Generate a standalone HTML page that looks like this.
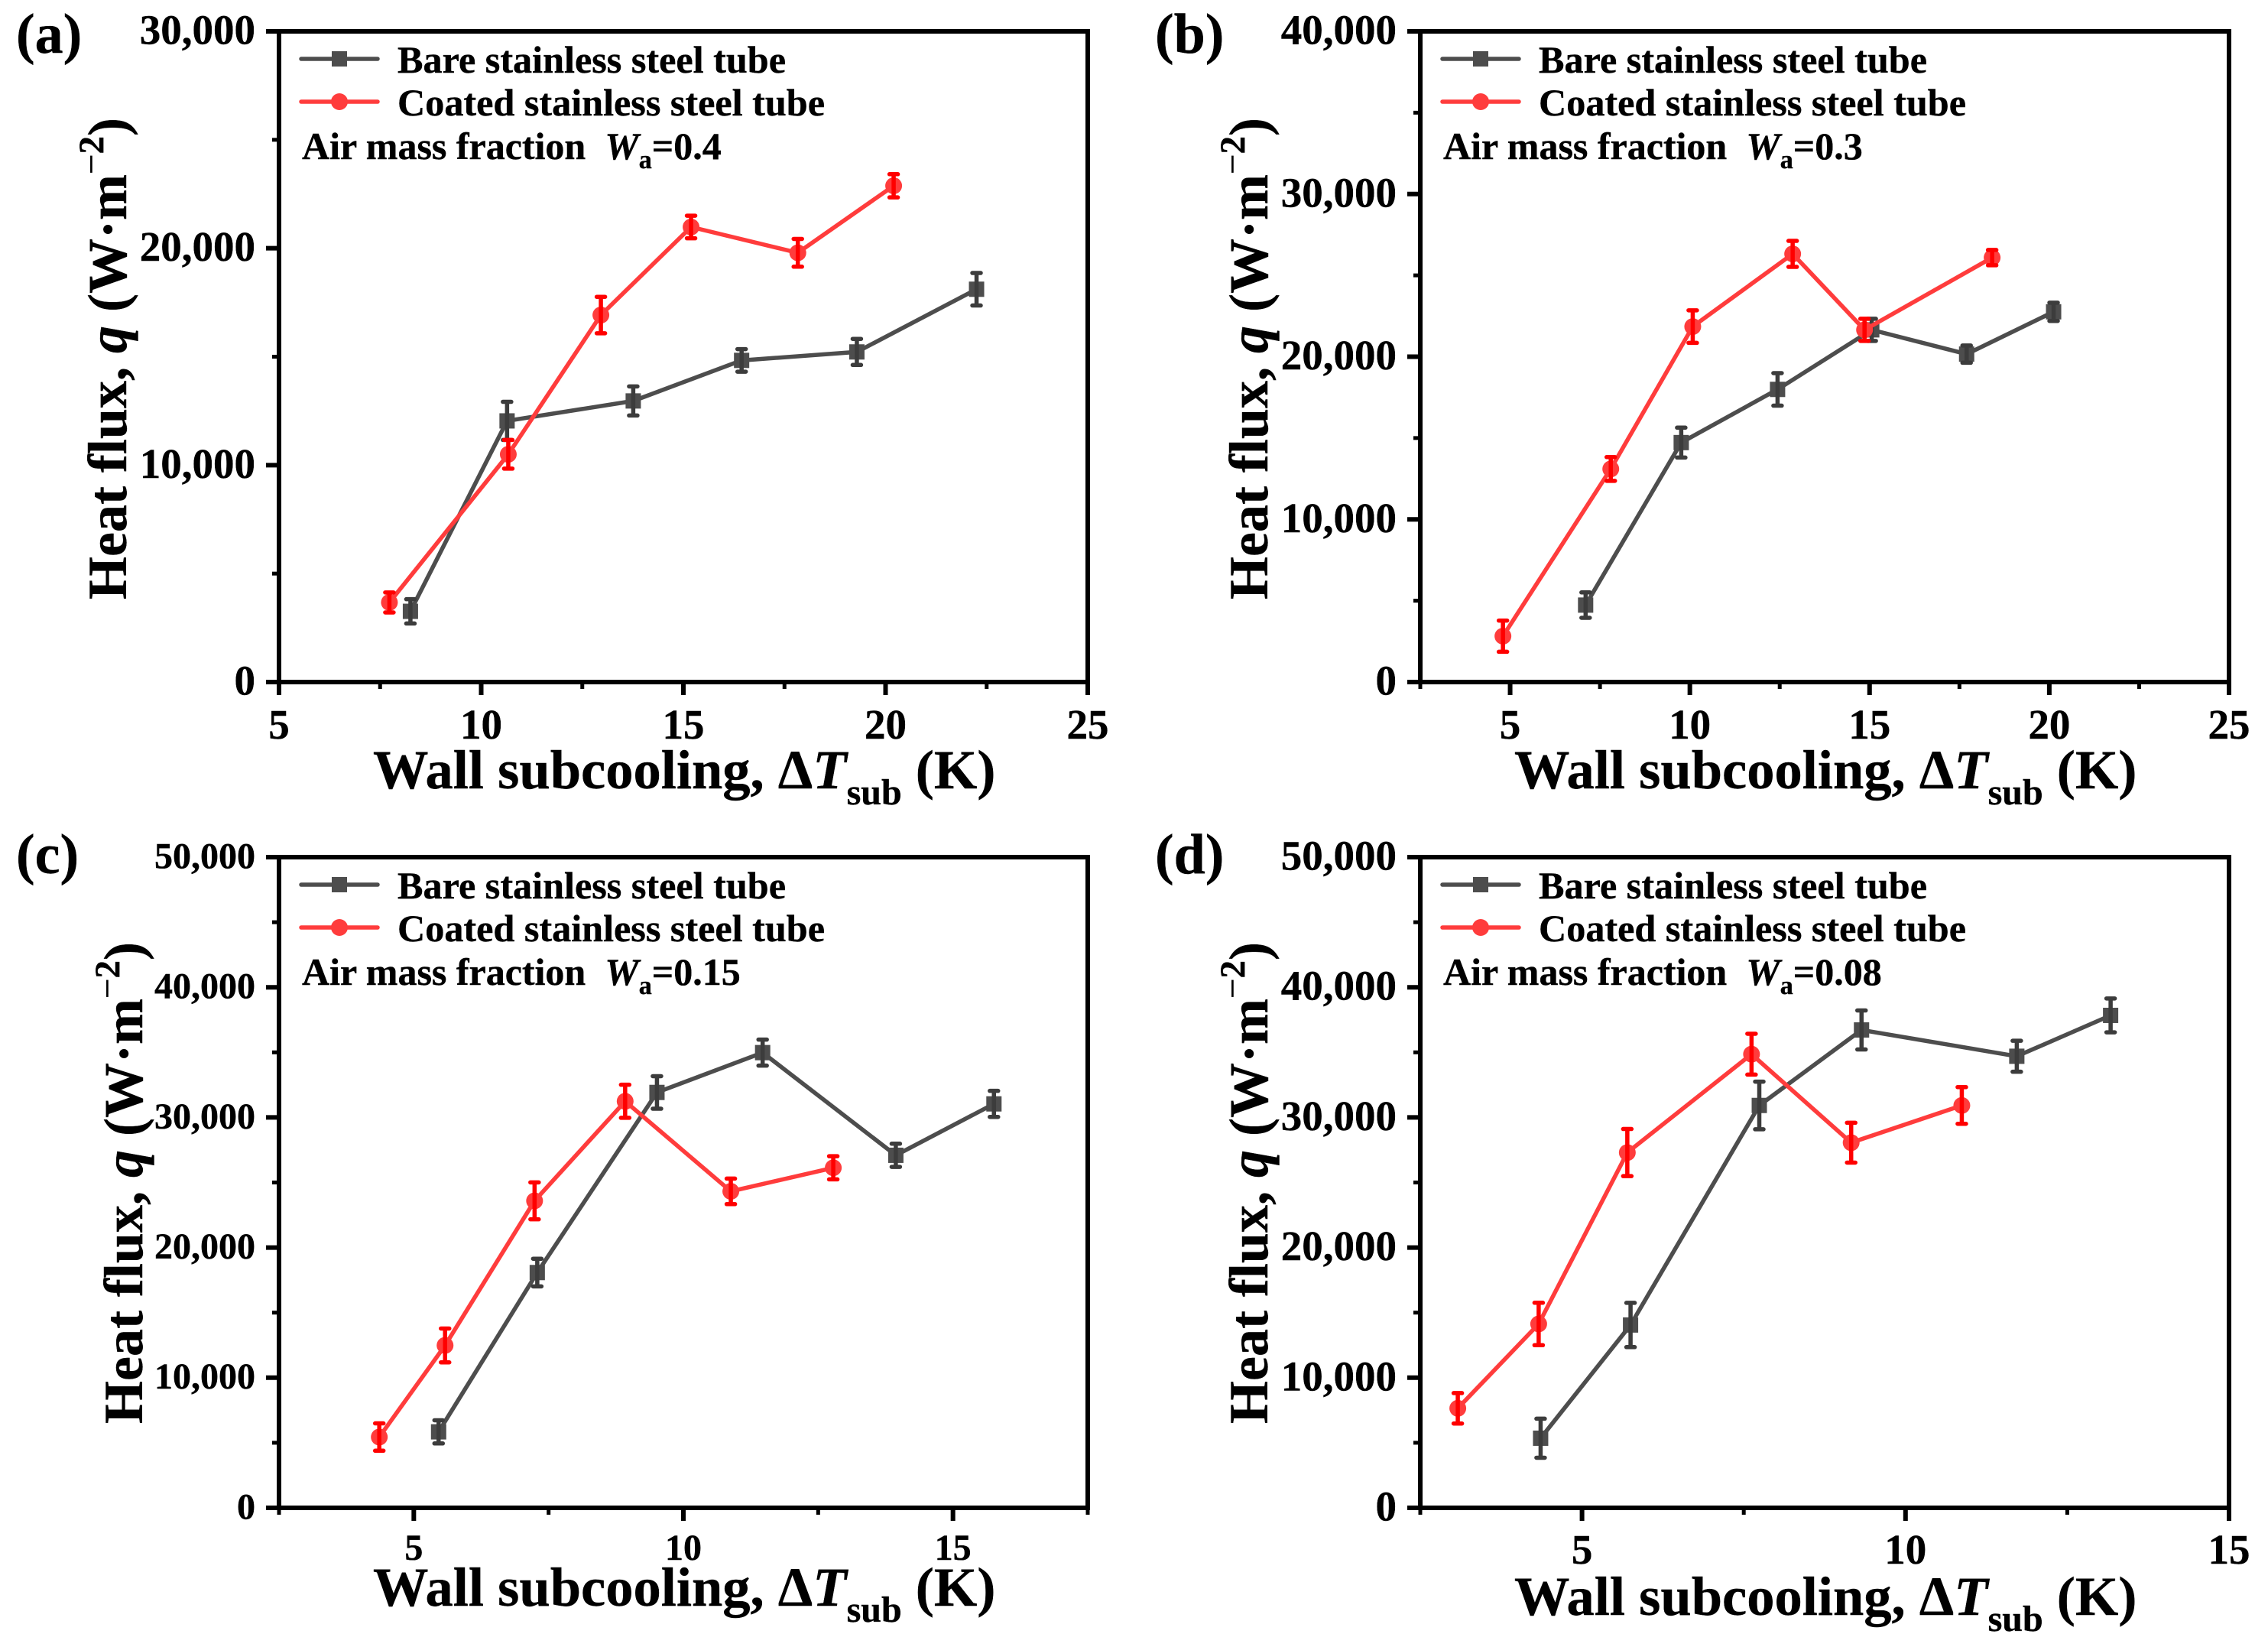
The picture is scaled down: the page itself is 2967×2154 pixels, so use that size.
<!DOCTYPE html>
<html lang="en">
<head>
<meta charset="utf-8">
<title>Heat flux vs wall subcooling</title>
<style>
html,body{margin:0;padding:0;background:#fff;}
svg{display:block;font-family:"Liberation Serif",serif;font-weight:bold;fill:#000;}
text{fill:#000;stroke:#000;stroke-width:0.4px;}
</style>
</head>
<body>
<svg id="figure" xmlns="http://www.w3.org/2000/svg" width="2967" height="2154" viewBox="0 0 2967 2154"></svg>
<script>
// Panel (a), air mass fraction 0.4
const aBareX = [8.25, 10.64, 13.76, 16.44, 19.29, 22.25];
const aBareQ = [3260, 12040, 12960, 14830, 15220, 18110];
const aBareErr = [560, 880, 670, 520, 600, 750];
const aCoatedX = [7.73, 10.67, 12.96, 15.19, 17.83, 20.2];
const aCoatedQ = [3670, 10500, 16920, 20980, 19790, 22880];
const aCoatedErr = [460, 660, 840, 520, 640, 535];
const aXTicks = ["5", "10", "15", "20", "25"];
const aYTicks = ["0", "10,000", "20,000", "30,000"];

// Panel (b), air mass fraction 0.3
const bBareX = [7.10, 9.76, 12.44, 15.06, 17.70, 20.12];
const bBareQ = [4730, 14720, 17990, 21650, 20160, 22760];
const bBareErr = [780, 920, 1000, 680, 530, 560];
const bCoatedX = [4.80, 7.80, 10.08, 12.86, 14.86, 18.41];
const bCoatedQ = [2820, 13100, 21850, 26320, 21650, 26090];
const bCoatedErr = [960, 730, 1000, 800, 680, 470];
const bXTicks = ["5", "10", "15", "20", "25"];
const bYTicks = ["0", "10,000", "20,000", "30,000", "40,000"];

// Panel (c), air mass fraction 0.15
const cBareX = [5.46, 7.29, 9.51, 11.47, 13.94, 15.76];
const cBareQ = [5840, 18080, 31920, 34980, 27090, 31040];
const cBareErr = [890, 1060, 1250, 1000, 890, 1000];
const cCoatedX = [4.36, 5.58, 7.24, 8.92, 10.88, 12.78];
const cCoatedQ = [5440, 12480, 23590, 31240, 24320, 26130];
const cCoatedErr = [1050, 1300, 1420, 1270, 980, 890];
const cXTicks = ["5", "10", "15"];
const cYTicks = ["0", "10,000", "20,000", "30,000", "40,000", "50,000"];

// Panel (d), air mass fraction 0.08
const dBareX = [4.36, 5.75, 7.74, 9.32, 11.72, 13.17];
const dBareQ = [5350, 14050, 30920, 36720, 34700, 37840];
const dBareErr = [1500, 1700, 1830, 1500, 1190, 1300];
const dCoatedX = [3.08, 4.33, 5.70, 7.62, 9.16, 10.87];
const dCoatedQ = [7650, 14130, 27300, 34860, 28060, 30920];
const dCoatedErr = [1170, 1630, 1810, 1570, 1530, 1410];
const dXTicks = ["5", "10", "15"];
const dYTicks = ["0", "10,000", "20,000", "30,000", "40,000", "50,000"];

const NS = "http://www.w3.org/2000/svg";
const figure = document.getElementById("figure");

function node(parent, tag, attrs) {
  const el = document.createElementNS(NS, tag);
  for (const k in attrs) el.setAttribute(k, attrs[k]);
  parent.appendChild(el);
  return el;
}
function span(parent, str, attrs) {
  const t = node(parent, "tspan", attrs || {});
  t.textContent = str;
  return t;
}

function drawSeries(g, key, color, errColor, xs, qs, errs, sx, sy) {
  const s = node(g, "g", {});
  
  
  const pts = xs.map((x, i) => sx(x) + "," + sy(qs[i])).join(" ");
  const line = node(s, "polyline", {points: pts, fill: "none", stroke: color, "stroke-width": 5.5, "stroke-linejoin": "round", "stroke-linecap": "round"});
  
  
  xs.forEach((x, i) => {
    const cx = sx(x), cy = sy(qs[i]);
    let marker;
    if (key === "bare") {
      marker = node(s, "rect", {x: cx - 10, y: cy - 10, width: 20, height: 20, fill: color});
    } else {
      marker = node(s, "circle", {cx: cx, cy: cy, r: 11, fill: color});
    }
    
    
    const top = sy(qs[i] + errs[i]), bot = sy(qs[i] - errs[i]);
    const path = "M" + cx + " " + top + "V" + bot + "M" + (cx - 5.5) + " " + top + "H" + (cx + 5.5) + "M" + (cx - 5.5) + " " + bot + "H" + (cx + 5.5);
    const bar = node(s, "path", {d: path, fill: "none", stroke: errColor, "stroke-width": 5.5, "stroke-linecap": "round"});
    
    
  });
}

function drawPanel(p) {
  const g = node(figure, "g", {});
  
  
  const sx = v => p.left + (v - p.xMin) / (p.xMax - p.xMin) * (p.right - p.left);
  const sy = v => p.bottom - v / p.yMax * (p.bottom - p.top);

  const label = node(g, "text", {x: p.labelX, y: p.labelY, "font-size": 74});
  label.textContent = "(" + p.id + ")";
  
  

  // x ticks: one minor between each labelled major
  for (let v = p.xMin; v <= p.xMax + 1e-6; v += 2.5) {
    const major = Math.abs(v / 5 - Math.round(v / 5)) < 1e-6;
    const t = node(g, "line", {x1: sx(v), x2: sx(v), y1: p.bottom, y2: p.bottom + (major ? 17 : 9), stroke: "#000", "stroke-width": major ? 6 : 5});
    
    
  }
  // y ticks: one minor between each labelled major
  for (let v = 0; v <= p.yMax + 1e-6; v += 5000) {
    const major = v % 10000 === 0;
    const t = node(g, "line", {x1: p.left - (major ? 17 : 9), x2: p.left, y1: sy(v), y2: sy(v), stroke: "#000", "stroke-width": major ? 6 : 5});
    
    
  }
  p.xTicks.forEach(s => {
    const t = node(g, "text", {x: sx(parseFloat(s)), y: p.xTickY, "font-size": p.xFont, "text-anchor": "middle"});
    t.textContent = s;
    
    
  });
  p.yTicks.forEach(s => {
    const t = node(g, "text", {x: p.left - 31, y: sy(parseFloat(s.replace(",", ""))) + p.yFont * 0.3, "font-size": p.yFont, "text-anchor": "end"});
    t.textContent = s;
    
    
  });

  const frame = node(g, "rect", {x: p.left, y: p.top, width: p.right - p.left, height: p.bottom - p.top, fill: "none", stroke: "#000", "stroke-width": 6});
  
  

  drawSeries(g, "bare", "#4d4d4d", "#3c3c3c", p.bareX, p.bareQ, p.bareErr, sx, sy);
  drawSeries(g, "coated", "#ff3c3c", "#ff0000", p.coatedX, p.coatedQ, p.coatedErr, sx, sy);

  // legend
  const lx = p.left + 29, ltx = p.left + 155;
  const legend = node(g, "g", {});
  
  
  const l1 = node(legend, "line", {x1: lx, x2: lx + 100, y1: p.top + 36, y2: p.top + 36, stroke: "#4d4d4d", "stroke-width": 5.5, "stroke-linecap": "round"});
  
  
  const m1 = node(legend, "rect", {x: lx + 40, y: p.top + 26, width: 20, height: 20, fill: "#4d4d4d"});
  
  
  const t1 = node(legend, "text", {x: ltx, y: p.top + 54, "font-size": p.legFont, textLength: 508, lengthAdjust: "spacingAndGlyphs"});
  t1.textContent = "Bare stainless steel tube";
  
  
  const l2 = node(legend, "line", {x1: lx, x2: lx + 100, y1: p.top + 92, y2: p.top + 92, stroke: "#ff3c3c", "stroke-width": 5.5, "stroke-linecap": "round"});
  
  
  const m2 = node(legend, "circle", {cx: lx + 50, cy: p.top + 92, r: 11, fill: "#ff3c3c"});
  
  
  const t2 = node(legend, "text", {x: ltx, y: p.top + 110, "font-size": p.legFont, textLength: 559, lengthAdjust: "spacingAndGlyphs"});
  t2.textContent = "Coated stainless steel tube";
  
  
  const t3 = node(g, "text", {x: p.left + 30, y: p.top + 167, "font-size": p.legFont});
  span(t3, "Air mass fraction\u00a0\u00a0");
  span(t3, "W", {"font-style": "italic"});
  span(t3, "a", {dy: 12, "font-size": 34});
  span(t3, "=" + p.wa, {dy: -12});
  
  

  // axis titles
  const xt = node(g, "text", {x: p.xTitleX, y: p.xTitleY, "font-size": 72.5});
  span(xt, "Wall subcooling, \u0394");
  span(xt, "T", {"font-style": "italic"});
  span(xt, "sub", {dy: 21, "font-size": 48});
  span(xt, " (K)", {dy: -21});
  
  

  const yt = node(g, "text", {transform: "translate(" + p.yTitleX + " " + p.yTitleY + ") rotate(-90)", "font-size": 72});
  span(yt, "Heat flux, ");
  span(yt, "q", {"font-style": "italic"});
  span(yt, " (W\u00b7m");
  span(yt, "\u2212", {dy: -30, "font-size": 47, "font-weight": "normal"});
  span(yt, "2", {"font-size": 47});
  span(yt, ")", {dy: 30});
  
  
}

const panelLayouts = [
  {id: "a", wa: "0.4", left: 365, right: 1423, top: 41, bottom: 892, xMin: 5, xMax: 25, yMax: 30000,
   bareX: aBareX, bareQ: aBareQ, bareErr: aBareErr, coatedX: aCoatedX, coatedQ: aCoatedQ, coatedErr: aCoatedErr,
   xTicks: aXTicks, yTicks: aYTicks, xFont: 55, yFont: 55, xTickY: 966, legFont: 50,
   labelX: 21, labelY: 69, xTitleX: 488, xTitleY: 1031, yTitleX: 165, yTitleY: 784},
  {id: "b", wa: "0.3", left: 1858, right: 2916, top: 41, bottom: 892, xMin: 2.5, xMax: 25, yMax: 40000,
   bareX: bBareX, bareQ: bBareQ, bareErr: bBareErr, coatedX: bCoatedX, coatedQ: bCoatedQ, coatedErr: bCoatedErr,
   xTicks: bXTicks, yTicks: bYTicks, xFont: 55, yFont: 55, xTickY: 966, legFont: 50,
   labelX: 1511, labelY: 69, xTitleX: 1981, xTitleY: 1031, yTitleX: 1658, yTitleY: 784},
  {id: "c", wa: "0.15", left: 365, right: 1423, top: 1121, bottom: 1972, xMin: 2.5, xMax: 17.5, yMax: 50000,
   bareX: cBareX, bareQ: cBareQ, bareErr: cBareErr, coatedX: cCoatedX, coatedQ: cCoatedQ, coatedErr: cCoatedErr,
   xTicks: cXTicks, yTicks: cYTicks, xFont: 48, yFont: 48, xTickY: 2040, legFont: 50,
   labelX: 21, labelY: 1142, xTitleX: 488, xTitleY: 2100, yTitleX: 186, yTitleY: 1862},
  {id: "d", wa: "0.08", left: 1858, right: 2916, top: 1121, bottom: 1972, xMin: 2.5, xMax: 15, yMax: 50000,
   bareX: dBareX, bareQ: dBareQ, bareErr: dBareErr, coatedX: dCoatedX, coatedQ: dCoatedQ, coatedErr: dCoatedErr,
   xTicks: dXTicks, yTicks: dYTicks, xFont: 55, yFont: 55, xTickY: 2045, legFont: 50,
   labelX: 1511, labelY: 1142, xTitleX: 1981, xTitleY: 2112, yTitleX: 1658, yTitleY: 1862}
];
panelLayouts.forEach(drawPanel);
</script>
</body>
</html>
